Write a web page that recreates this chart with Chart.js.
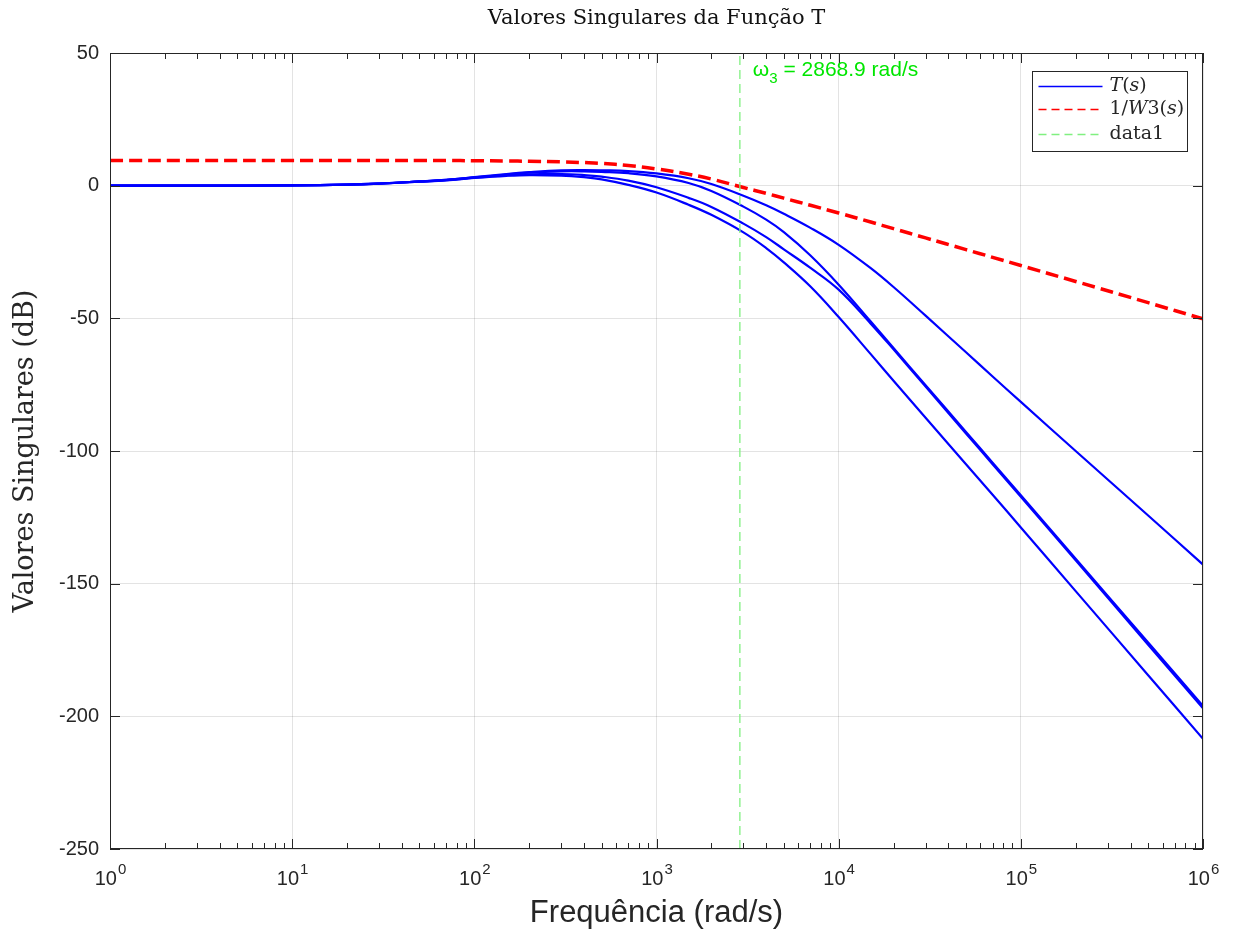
<!DOCTYPE html>
<html>
<head>
<meta charset="utf-8">
<script src="https://cdn.jsdelivr.net/npm/chart.js@4.4.0/dist/chart.umd.min.js"></script>
<style>
  html, body { margin: 0; padding: 0; background: #fff; }
  #wrap { width: 1234px; height: 938px; }
</style>
</head>
<body>
<div id="wrap"><canvas id="chart" width="1234" height="938"></canvas></div>
<script>
// frequencias (rad/s) onde as curvas foram lidas
const freq = [1, 3, 10, 20, 30, 50, 70, 100, 150, 200, 300, 400, 500, 700, 1000, 1500, 2000, 3000, 4000, 5000,
  7000, 10000, 15000, 20000, 30000, 50000, 70000, 100000, 200000, 500000, 1000000];

// valores singulares de T(s) em dB
const sv1 = [0, 0, 0.1, 0.4, 0.8, 1.6, 2.2, 3.2, 4.4, 5.1, 5.8, 5.9, 5.8, 5.5, 4.6, 2.8, 0.6, -3.8, -7.4, -10.6,
  -15.9, -22.3, -31.1, -38.2, -49.0, -62.8, -71.9, -81.5, -100.0, -124.3, -142.8];
const sv2 = [0, 0, 0.1, 0.4, 0.8, 1.6, 2.2, 3.1, 4.2, 4.9, 5.4, 5.4, 5.2, 4.7, 3.5, 1.0, -2.0, -7.9, -12.8, -17.5,
  -26.3, -37.3, -51.2, -61.2, -75.2, -92.8, -104.4, -116.7, -140.6, -172.2, -196.1];
const sv3 = [0, 0, 0.1, 0.4, 0.8, 1.5, 2.1, 3.0, 3.9, 4.3, 4.4, 4.0, 3.4, 1.9, -0.6, -4.6, -8.0, -14.3, -19.4, -24.0,
  -31.0, -39.2, -52.0, -61.7, -75.7, -93.4, -105.0, -117.3, -141.2, -173.0, -197.0];
const sv4 = [0, 0, 0.1, 0.4, 0.8, 1.5, 2.0, 2.9, 3.7, 4.0, 3.8, 3.2, 2.4, 0.3, -2.6, -7.2, -11.0, -17.6, -23.5, -28.9,
  -38.0, -49.5, -63.5, -73.5, -87.5, -105, -116.5, -128.8, -152.8, -184.5, -208.5];

// 1/W3(s) em dB
const invW3 = [9.5, 9.5, 9.5, 9.5, 9.5, 9.5, 9.5, 9.4, 9.3, 9.2, 9.0, 8.7, 8.4, 7.6, 6.3, 4.3, 2.5, -0.7, -2.9, -4.7,
  -7.4, -10.3, -13.7, -16.2, -19.7, -24.1, -27, -30.1, -36.1, -44.1, -50.2];

const omega3 = 2868.9;
const omegaLabelPos = [3380, 44];

const yTicks = [-250, -200, -150, -100, -50, 0, 50];
const xDecades = [1, 10, 100, 1000, 10000, 100000, 1000000];
const xExponents = ['0', '1', '2', '3', '4', '5', '6'];

const axisColor = '#262626';
const gridColor = 'rgba(38,38,38,0.13)';

const toPoints = vals => freq.map((f, i) => ({ x: f, y: vals[i] }));

const blue = (label, vals) => ({
  label: label,
  data: toPoints(vals),
  borderColor: '#0000ff',
  borderWidth: 2.2,
  pointRadius: 0,
  tension: 0.4,
  order: 3,
});

const datasets = [
  blue('T(s)', sv1),
  blue('', sv2),
  blue('', sv3),
  blue('', sv4),
  {
    label: '1/W3(s)',
    data: toPoints(invW3),
    borderColor: '#ff0000',
    borderWidth: 3.5,
    borderDash: [13, 6],
    pointRadius: 0,
    tension: 0.4,
    order: 2,
  },
  {
    label: 'data1',
    data: [{ x: omega3, y: yTicks[0] }, { x: omega3, y: yTicks[yTicks.length - 1] }],
    borderColor: '#80f080',
    borderWidth: 1.3,
    borderDash: [9, 5],
    pointRadius: 0,
    order: 1,
  },
];

// legenda no estilo do matlab (com partes em italico)
const legendItems = [
  { ds: 0, parts: [['T', 'italic'], ['(', ''], ['s', 'italic'], [')', '']] },
  { ds: 4, parts: [['1/', ''], ['W', 'italic'], ['3(', ''], ['s', 'italic'], [')', '']] },
  { ds: 5, parts: [['data1', '']] },
];

const chartTitle = 'Valores Singulares da Função T';

const axesPlugin = {
  id: 'axesPlugin',
  afterDatasetsDraw(chart) {
    const { ctx, chartArea: a, scales: { x, y } } = chart;
    ctx.save();

    // titulo centrado sobre os eixos
    ctx.fillStyle = '#111111';
    ctx.font = '21px "DejaVu Serif"';
    ctx.textAlign = 'center';
    ctx.textBaseline = 'alphabetic';
    ctx.fillText(chartTitle, (a.left + a.right) / 2, 24);

    // caixa e ticks internos
    ctx.strokeStyle = axisColor;
    ctx.lineWidth = 1;
    ctx.beginPath();
    const xt = (v, len) => {
      const px = Math.round(x.getPixelForValue(v)) + 0.5;
      ctx.moveTo(px, a.bottom); ctx.lineTo(px, a.bottom - len);
      ctx.moveTo(px, a.top); ctx.lineTo(px, a.top + len);
    };
    xDecades.forEach((d, i) => {
      xt(d, 10);
      if (i < xDecades.length - 1) {
        for (let k = 2; k <= 9; k++) xt(d * k, 6);
      }
    });
    yTicks.forEach(v => {
      const py = Math.round(y.getPixelForValue(v)) + 0.5;
      ctx.moveTo(a.left, py); ctx.lineTo(a.left + 10, py);
      ctx.moveTo(a.right, py); ctx.lineTo(a.right - 10, py);
    });
    ctx.stroke();
    ctx.strokeRect(Math.round(a.left) + 0.5, Math.round(a.top) + 0.5,
      Math.round(a.width) - 1, Math.round(a.height) - 1);

    // rotulos do eixo x: 10^n
    ctx.fillStyle = axisColor;
    ctx.textAlign = 'left';
    xDecades.forEach((d, i) => {
      const px = x.getPixelForValue(d);
      ctx.font = '20px "Liberation Sans"';
      const wb = ctx.measureText('10').width;
      ctx.font = '15px "Liberation Sans"';
      const we = ctx.measureText(xExponents[i]).width;
      const x0 = px - (wb + we) / 2;
      ctx.font = '20px "Liberation Sans"';
      ctx.fillText('10', x0, a.bottom + 36);
      ctx.font = '15px "Liberation Sans"';
      ctx.fillText(xExponents[i], x0 + wb + 1, a.bottom + 25);
    });

    // texto de omega3
    const lx = x.getPixelForValue(omegaLabelPos[0]);
    const ly = y.getPixelForValue(omegaLabelPos[1]);
    ctx.fillStyle = '#00e600';
    ctx.font = '21px "Liberation Sans"';
    ctx.fillText('\u03c9', lx, ly + 7);
    let cx = lx + ctx.measureText('\u03c9').width;
    ctx.font = '15px "Liberation Sans"';
    ctx.fillText('3', cx, ly + 14);
    cx += ctx.measureText('3').width;
    ctx.font = '21px "Liberation Sans"';
    ctx.fillText(' = ' + omega3.toFixed(1) + ' rad/s', cx, ly + 7);

    // legenda
    const bw = 155, bh = 80;
    const bx = Math.round(a.right - 171) + 0.5;
    const by = Math.round(a.top + 18) + 0.5;
    ctx.fillStyle = '#ffffff';
    ctx.fillRect(bx, by, bw, bh);
    ctx.strokeStyle = axisColor;
    ctx.lineWidth = 1;
    ctx.setLineDash([]);
    ctx.strokeRect(bx, by, bw, bh);
    const rows = [15, 38, 63];
    legendItems.forEach((it, i) => {
      const ds = chart.data.datasets[it.ds];
      const ry = by + rows[i];
      ctx.strokeStyle = ds.borderColor;
      ctx.lineWidth = 1.5;
      ctx.setLineDash(ds.borderDash ? [8, 5] : []);
      ctx.beginPath();
      ctx.moveTo(bx + 6, ry); ctx.lineTo(bx + 70, ry);
      ctx.stroke();
      ctx.setLineDash([]);
      let tx = bx + 77;
      ctx.fillStyle = axisColor;
      ctx.textBaseline = 'middle';
      it.parts.forEach(p => {
        ctx.font = (p[1] ? 'italic ' : '') + '19px "DejaVu Serif"';
        ctx.fillText(p[0], tx, ry);
        tx += ctx.measureText(p[0]).width;
      });
    });

    ctx.restore();
  },
};

new Chart(document.getElementById('chart').getContext('2d'), {
  type: 'line',
  data: { datasets: datasets },
  options: {
    responsive: false,
    animation: false,
    layout: { padding: { left: 0, right: 31, top: 53, bottom: 0 } },
    plugins: {
      legend: { display: false },
      tooltip: { enabled: false },
      title: { display: false },
    },
    scales: {
      x: {
        type: 'logarithmic',
        min: 1,
        max: 1000000,
        afterBuildTicks(s) { s.ticks = xDecades.map(v => ({ value: v })); },
        ticks: { display: false },
        grid: { color: gridColor, drawTicks: false },
        border: { display: false },
        title: {
          display: true,
          text: 'Frequência (rad/s)',
          color: axisColor,
          font: { family: 'Liberation Sans', size: 31 },
          padding: { top: 0, bottom: 6 },
        },
        afterFit(s) { s.height = 89; },
      },
      y: {
        type: 'linear',
        min: -250,
        max: 50,
        afterBuildTicks(s) { s.ticks = yTicks.map(v => ({ value: v })); },
        ticks: {
          padding: 11,
          color: axisColor,
          font: { family: 'Liberation Sans', size: 20 },
        },
        grid: { color: gridColor, drawTicks: false },
        border: { display: false },
        title: {
          display: true,
          text: 'Valores Singulares (dB)',
          color: axisColor,
          font: { family: 'DejaVu Serif', size: 27 },
          padding: { top: 10, bottom: 0 },
        },
        afterFit(s) { s.width = 110; },
      },
    },
  },
  plugins: [axesPlugin],
});
</script>
</body>
</html>
